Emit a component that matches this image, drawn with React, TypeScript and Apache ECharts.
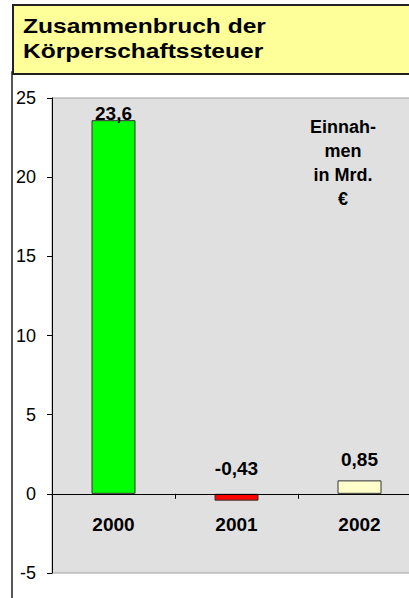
import React, { useEffect, useRef } from "react";
import * as echarts from "echarts";

const categories = ["2000", "2001", "2002"];
const values = [23.6, -0.43, 0.85];
const barColors = ["#00ff00", "#ff0000", "#ffffcc"];
const labelDistances = [-3, 16, 11];
const yTicks = { min: -5, max: 25, interval: 5 };
const titleLines = ["Zusammenbruch der", "Körperschaftssteuer"];
const noteLines = ["Einnah-", "men", "in Mrd.", "€"];

const FONT = "'Liberation Sans', Arial, sans-serif";
const GRID = { left: 52, top: 98, bottom: 25, width: 369 };
const H = 598;

export default function App() {
  const ref = useRef<HTMLDivElement>(null);
  useEffect(() => {
    if (!ref.current) return;
    const chart = echarts.init(ref.current, undefined, { renderer: "svg" });
    const gridHeight = H - GRID.top - GRID.bottom;
    const zeroOffset = -((0 - yTicks.min) / (yTicks.max - yTicks.min)) * gridHeight;
    chart.setOption({
      animation: false,
      backgroundColor: "#ffffff",
      textStyle: { fontFamily: FONT },
      graphic: [
        {
          type: "rect",
          z: 0,
          shape: { x: 12, y: 72, width: 420, height: 540 },
          style: { fill: "#ffffff", stroke: "#222", lineWidth: 1.5 },
        },
        {
          type: "rect",
          z: 1,
          shape: { x: 13, y: 5, width: 420, height: 69 },
          style: { fill: "#ffff99", stroke: "#222", lineWidth: 2 },
        },
        {
          type: "text",
          z: 2,
          x: 23,
          y: 13,
          scaleX: 1.17,
          style: {
            text: titleLines.join("\n"),
            font: `bold 21px ${FONT}`,
            lineHeight: 25,
            fill: "#000",
            verticalAlign: "top",
          },
        },
        {
          type: "text",
          z: 50,
          x: 343,
          y: 115,
          style: {
            text: noteLines.join("\n"),
            font: `bold 18px ${FONT}`,
            lineHeight: 24,
            fill: "#000",
            align: "center",
            verticalAlign: "top",
          },
        },
      ],
      grid: {
        ...GRID,
        outerBoundsMode: "none",
        containLabel: false,
        show: true,
        backgroundColor: "#e0e0e0",
        borderColor: "#a0a0a0",
        borderWidth: 1,
        z: 3,
      },
      xAxis: {
        type: "category",
        data: categories,
        z: 10,
        offset: zeroOffset,
        axisLine: { onZero: false, lineStyle: { color: "#000", width: 1 } },
        axisTick: { show: true, length: 5, lineStyle: { color: "#000" } },
        axisLabel: {
          margin: 21,
          fontSize: 19,
          fontWeight: "bold",
          color: "#000",
          fontFamily: FONT,
        },
      },
      yAxis: {
        type: "value",
        min: yTicks.min,
        max: yTicks.max,
        interval: yTicks.interval,
        z: 10,
        splitLine: { show: false },
        axisLine: { show: true, lineStyle: { color: "#000", width: 1 } },
        axisTick: { show: true, length: 5, lineStyle: { color: "#000" } },
        axisLabel: {
          margin: 16,
          fontSize: 18,
          color: "#000",
          fontFamily: FONT,
        },
      },
      series: [
        {
          type: "bar",
          z: 5,
          barWidth: 44,
          data: values.map((v, i) => ({
            value: v,
            itemStyle: { color: barColors[i], borderColor: "#333", borderWidth: 1 },
            label: { distance: labelDistances[i] },
          })),
          label: {
            show: true,
            position: "top",
            fontSize: 19,
            fontWeight: "bold",
            color: "#000",
            fontFamily: FONT,
            formatter: (p: any) => String(p.value).replace(".", ","),
          },
        },
      ],
    });
    return () => chart.dispose();
  }, []);
  return (
    <div
      ref={ref}
      style={{ position: "fixed", left: 0, top: 0, width: 409, height: H }}
    />
  );
}
